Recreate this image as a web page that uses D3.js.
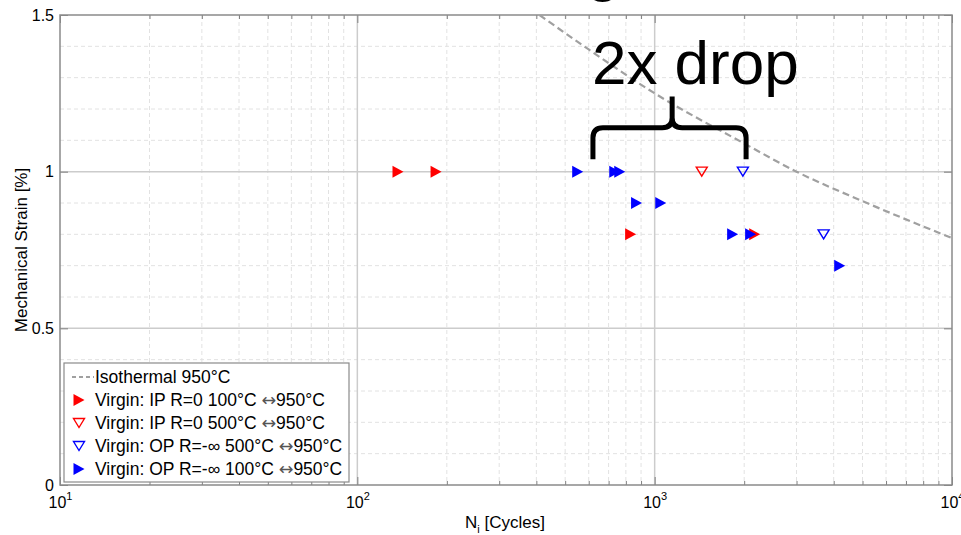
<!DOCTYPE html>
<html><head><meta charset="utf-8">
<script src="https://cdn.jsdelivr.net/npm/d3@7"></script>
<style>
body{margin:0;background:#fff}
svg{font-family:"Liberation Sans",Arial,sans-serif;display:block}
</style></head><body>
<svg id="chart" width="961" height="535"></svg>
<script>
// data: [N cycles, strain %]
var ipHot = [[137, 1.0], [184, 1.0], [830, 0.8], [2170, 0.8]];        // Virgin: IP R=0 100C <-> 950C
var ipWarm = [[1440, 1.0]];                                             // Virgin: IP R=0 500C <-> 950C
var opWarm = [[1980, 1.0], [3700, 0.8]];                                // Virgin: OP R=-inf 500C <-> 950C
var opHot = [[551, 1.0], [734, 1.0], [763, 1.0], [869, 0.9], [1048, 0.9],
             [1829, 0.8], [2102, 0.8], [4190, 0.7]];                    // Virgin: OP R=-inf 100C <-> 950C
var isoN = [410, 600, 1000, 2000, 3000, 5000, 10000];
var isoStrain = [1.5, 1.39, 1.25, 1.09, 1.0, 0.906, 0.788];

var xMajor = [10, 100, 1000, 10000];
var yMajor = [0, 0.5, 1, 1.5];
// legend labels split round the arrow: [before, after]
var legendLabels = [["Isothermal 950°C", ""],
  ["Virgin: IP R=0 100°C ", "950°C"],
  ["Virgin: IP R=0 500°C ", "950°C"],
  ["Virgin: OP R=-\u221E 500°C ", "950°C"],
  ["Virgin: OP R=-\u221E 100°C ", "950°C"]];

var margin = {top: 15, right: 9, bottom: 50, left: 60},
  width = 961 - margin.left - margin.right,
  height = 535 - margin.top - margin.bottom;

var svg = d3.select('#chart');
var g = svg.append('g')
  .attr('transform', 'translate(' + margin.left + ',' + margin.top + ')');

var x = d3.scaleLog().domain([10, 10000]).range([0, width]),
  y = d3.scaleLinear().domain([0, 1.5]).range([height, 0]);

// minor values
var xMinor = [];
[10, 100, 1000].forEach(function(d) { for (var k = 2; k <= 9; k++) xMinor.push(d * k); });
var yMinor = d3.range(1, 15).map(function(i) { return i / 10; }).filter(function(v) { return yMajor.indexOf(v) < 0; });

// grid
g.append('g').selectAll('line').data(xMinor).enter().append('line')
  .attr('x1', x).attr('x2', x).attr('y1', 0).attr('y2', height)
  .attr('stroke', '#e2e2e2').attr('stroke-dasharray', '4,3');
g.append('g').selectAll('line').data(yMinor).enter().append('line')
  .attr('y1', y).attr('y2', y).attr('x1', 0).attr('x2', width)
  .attr('stroke', '#e2e2e2').attr('stroke-dasharray', '4,3');
g.append('g').selectAll('line').data(xMajor.slice(1, 3)).enter().append('line')
  .attr('x1', x).attr('x2', x).attr('y1', 0).attr('y2', height)
  .attr('stroke', '#cccccc').attr('stroke-width', 1.5);
g.append('g').selectAll('line').data(yMajor.slice(1, 3)).enter().append('line')
  .attr('y1', y).attr('y2', y).attr('x1', 0).attr('x2', width)
  .attr('stroke', '#cccccc').attr('stroke-width', 1.5);

// axes (ticks inward)
var xAx = g.append('g').attr('class', 'axis')
  .attr('transform', 'translate(0,' + height + ')')
  .call(d3.axisBottom(x).tickValues(xMajor).tickSizeInner(-8).tickSizeOuter(0).tickPadding(12));
xAx.selectAll('.tick text').text(null).attr('font-size', 16).attr('fill', '#000')
  .each(function(d) {
    var t = d3.select(this);
    t.append('tspan').text('10');
    t.append('tspan').attr('dy', -8).attr('font-size', 11).text(Math.round(Math.log10(d)));
  });
g.append('g').attr('transform', 'translate(0,' + height + ')')
  .call(d3.axisBottom(x).tickValues(xMinor).tickSize(-4).tickFormat(''));
g.append('g').call(d3.axisTop(x).tickValues(xMajor).tickSize(-8).tickFormat(''));
g.append('g').call(d3.axisTop(x).tickValues(xMinor).tickSize(-4).tickFormat(''));

var yAx = g.append('g')
  .call(d3.axisLeft(y).tickValues(yMajor).tickSizeInner(-8).tickSizeOuter(0).tickPadding(6).tickFormat(d3.format('')));
yAx.selectAll('.tick text').attr('font-size', 16).attr('fill', '#000');
g.append('g').attr('transform', 'translate(' + width + ',0)')
  .call(d3.axisRight(y).tickValues(yMajor).tickSize(-8).tickFormat(''));

g.selectAll('.domain').remove();
g.selectAll('.tick line').attr('stroke', '#808080');

g.append('rect').attr('width', width).attr('height', height)
  .attr('fill', 'none').attr('stroke', '#8a8a8a').attr('stroke-width', 1.5);

// isothermal curve
g.append('clipPath').attr('id', 'clip').append('rect').attr('width', width).attr('height', height);
var iso = isoN.map(function(n, i) { return [n, isoStrain[i]]; });
g.append('path').datum(iso)
  .attr('clip-path', 'url(#clip)')
  .attr('d', d3.line().curve(d3.curveMonotoneX).x(function(d) { return x(d[0]); }).y(function(d) { return y(d[1]); }))
  .attr('fill', 'none').attr('stroke', '#a0a0a0').attr('stroke-width', 2.2).attr('stroke-dasharray', '7,4');

// markers
var triRight = 'M-5.5,-6L5.5,0L-5.5,6Z',
  triDown = 'M-5.5,-4.5L5.5,-4.5L0,4.5Z';
function drawSet(data, path, color, filled) {
  g.append('g').selectAll('path').data(data).enter().append('path')
    .attr('d', path)
    .attr('transform', function(d) { return 'translate(' + x(d[0]) + ',' + y(d[1]) + ')'; })
    .attr('fill', filled ? color : 'none')
    .attr('stroke', filled ? 'none' : color)
    .attr('stroke-width', 1.4);
}
drawSet(ipHot, triRight, '#ff0000', true);
drawSet(ipWarm, triDown, '#ff0000', false);
drawSet(opWarm, triDown, '#0000ff', false);
drawSet(opHot, triRight, '#0000ff', true);

// annotation: brace + text
var bx0 = x(620), bx1 = x(2030), bxm = x(1145),
  byBar = y(1.14), byEnd = y(1.04), byTip = y(1.24), r = 10;
g.append('path')
  .attr('d', 'M' + bx0 + ',' + byEnd + 'L' + bx0 + ',' + (byBar + r) +
    'Q' + bx0 + ',' + byBar + ' ' + (bx0 + r) + ',' + byBar +
    'L' + (bxm - r) + ',' + byBar + 'Q' + bxm + ',' + byBar + ' ' + bxm + ',' + (byBar - r) +
    'L' + bxm + ',' + byTip +
    'M' + bxm + ',' + (byBar - r) + 'Q' + bxm + ',' + byBar + ' ' + (bxm + r) + ',' + byBar +
    'L' + (bx1 - r) + ',' + byBar + 'Q' + bx1 + ',' + byBar + ' ' + bx1 + ',' + (byBar + r) +
    'L' + bx1 + ',' + byEnd)
  .attr('fill', 'none').attr('stroke', '#000').attr('stroke-width', 5);
g.append('text').attr('x', x(1370)).attr('y', y(1.28))
  .attr('text-anchor', 'middle').attr('font-size', 62).text('2x drop');
// cut-off title remnant above the plot
svg.append('text').attr('x', 603).attr('y', -10).attr('text-anchor', 'middle')
  .attr('font-size', 60).text('g');

// axis titles
svg.append('text')
  .attr('transform', 'translate(27,' + (margin.top + height / 2) + ') rotate(-90)')
  .attr('text-anchor', 'middle').attr('font-size', 17).text('Mechanical Strain [%]');
var xt = svg.append('text').attr('x', 465).attr('y', 528).attr('font-size', 17);
xt.append('tspan').text('N');
xt.append('tspan').attr('dy', 5).attr('font-size', 11).text('i');
xt.append('tspan').attr('dy', -5).text(' [Cycles]');

// legend
var lg = g.append('g').attr('transform', 'translate(4,' + (height - 122) + ')');
lg.append('rect').attr('width', 285).attr('height', 119)
  .attr('fill', '#fff').attr('stroke', '#8a8a8a').attr('stroke-width', 1.2);
var rows = lg.selectAll('.row').data(legendLabels).enter().append('g')
  .attr('transform', function(d, i) { return 'translate(0,' + (14 + i * 23) + ')'; });
var rt = rows.append('text').attr('x', 31).attr('y', 6).attr('font-size', 17.5);
rt.append('tspan').text(function(d) { return d[0]; });
rt.append('tspan').attr('font-family', 'DejaVu Sans').attr('fill', '#555')
  .text(function(d) { return d[1] ? '\u2194' : ''; });
rt.append('tspan').text(function(d) { return d[1]; });
lg.append('line').attr('x1', 8).attr('x2', 30).attr('y1', 14).attr('y2', 14)
  .attr('stroke', '#a0a0a0').attr('stroke-width', 2).attr('stroke-dasharray', '4,3');
var legMarks = [[triRight, '#ff0000', true], [triDown, '#ff0000', false], [triDown, '#0000ff', false], [triRight, '#0000ff', true]];
legMarks.forEach(function(m, i) {
  lg.append('path').attr('d', m[0])
    .attr('transform', 'translate(15,' + (14 + (i + 1) * 23) + ')')
    .attr('fill', m[2] ? m[1] : 'none').attr('stroke', m[2] ? 'none' : m[1]).attr('stroke-width', 1.4);
});
</script>
</body></html>
